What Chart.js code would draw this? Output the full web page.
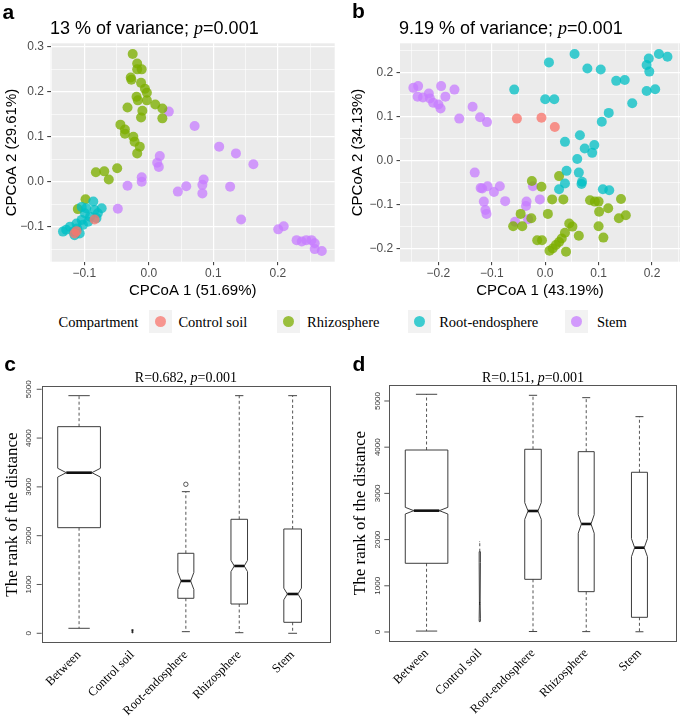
<!DOCTYPE html>
<html><head><meta charset="utf-8">
<script src="https://cdn.jsdelivr.net/npm/chart.js@4.4.1/dist/chart.umd.min.js"></script>
<style>
html,body{margin:0;padding:0;background:#fff;}
#wrap{position:relative;width:685px;height:716px;overflow:hidden;background:#fff;}
canvas{position:absolute;}
.lbl{position:absolute;white-space:nowrap;line-height:1;color:#000;}
.letter{font:bold 21px "Liberation Sans",Arial,sans-serif;}
.ttl{font:18px "Liberation Sans",Arial,sans-serif;}
.ttl i{font-family:"Liberation Serif","Times New Roman",serif;}
.btl{font:14px "Liberation Serif","Times New Roman",serif;transform:translateX(-50%);}
.leg{font:14.5px "Liberation Serif","Times New Roman",serif;}
.key{position:absolute;width:23px;height:23px;background:#F2F2F2;}
.key span{position:absolute;left:6px;top:6px;width:11px;height:11px;border-radius:50%;}
</style></head>
<body>
<div id="wrap">
  <canvas id="ca" width="345" height="302" style="left:0;top:0"></canvas>
  <canvas id="cb" width="340" height="302" style="left:345px;top:0"></canvas>
  <canvas id="cc" width="342" height="376" style="left:0;top:340px"></canvas>
  <canvas id="cd" width="340" height="376" style="left:345px;top:340px"></canvas>

  <div class="lbl letter" style="left:2.6px;top:0.3px">a</div>
  <div class="lbl letter" style="left:352px;top:-1px">b</div>
  <div class="lbl letter" style="left:4.2px;top:352.2px">c</div>
  <div class="lbl letter" style="left:352.5px;top:352.2px">d</div>

  <div class="lbl ttl" style="left:50px;top:17.8px">13 % of variance; <i>p</i>=0.001</div>
  <div class="lbl ttl" style="left:399px;top:17.8px">9.19 % of variance; <i>p</i>=0.001</div>

  <div class="lbl btl" style="left:185.9px;top:370.3px">R=0.682, <i>p</i>=0.001</div>
  <div class="lbl btl" style="left:533px;top:370px">R=0.151, <i>p</i>=0.001</div>

  <div class="lbl leg" style="left:58.6px;top:313.5px">Compartment</div>
  <div class="key" style="left:148.5px;top:309.5px"><span style="background:rgba(248,118,109,0.75)"></span></div>
  <div class="lbl leg" style="left:178.4px;top:313.5px">Control soil</div>
  <div class="key" style="left:276.7px;top:309.5px"><span style="background:rgba(124,174,0,0.75)"></span></div>
  <div class="lbl leg" style="left:307px;top:313.5px">Rhizosphere</div>
  <div class="key" style="left:407.5px;top:309.5px"><span style="background:rgba(0,191,196,0.75)"></span></div>
  <div class="lbl leg" style="left:439.2px;top:313.5px">Root-endosphere</div>
  <div class="key" style="left:565.2px;top:309.5px"><span style="background:rgba(199,124,255,0.75)"></span></div>
  <div class="lbl leg" style="left:596.9px;top:313.5px">Stem</div>
</div>
<script>
// ---------------- DATA ----------------
const groups = ['Control soil', 'Root-endosphere', 'Rhizosphere', 'Stem'];

// Panel a (CPCoA, 51.69% / 29.61%)
const aCtrlX = [-0.115, -0.084, -0.112];
const aCtrlY = [-0.115, -0.084, -0.110];
const aRootX = [-0.133,-0.122,-0.117,-0.107,-0.112,-0.104,-0.099,-0.104,-0.097,-0.086,-0.084,-0.073,-0.079,-0.091,-0.111,-0.102,-0.094,-0.081,-0.128,-0.115];
const aRootY = [-0.111,-0.100,-0.111,-0.115,-0.093,-0.085,-0.070,-0.056,-0.059,-0.044,-0.063,-0.059,-0.070,-0.078,-0.104,-0.096,-0.089,-0.081,-0.107,-0.119];
const aRhizoX = [-0.025,-0.018,-0.018,-0.011,-0.028,-0.027,-0.012,-0.006,-0.003,-0.019,-0.017,-0.003,-0.033,-0.010,-0.012,0.010,0.021,0.021,-0.044,-0.037,-0.037,-0.024,-0.022,-0.014,-0.018,-0.082,-0.069,-0.062,-0.049,-0.098,-0.110];
const aRhizoY = [0.284,0.263,0.250,0.250,0.232,0.227,0.220,0.207,0.198,0.189,0.181,0.181,0.165,0.158,0.143,0.172,0.163,0.141,0.127,0.107,0.116,0.100,0.089,0.078,0.063,0.021,0.023,0.005,0.030,-0.039,-0.061];
const aStemX = [0.031,0.071,0.109,0.135,0.162,0.017,0.013,0.0155,-0.011,-0.011,-0.033,-0.048,0.045,0.058,0.083,0.085,0.083,0.126,0.143,0.2005,0.209,0.229,0.237,0.244,0.252,0.257,0.257,0.268];
const aStemY = [0.156,0.124,0.078,0.063,0.039,0.057,0.042,0.033,0.010,0.000,-0.009,-0.060,-0.022,-0.010,-0.007,0.005,-0.026,-0.011,-0.084,-0.106,-0.099,-0.130,-0.133,-0.130,-0.130,-0.137,-0.150,-0.154];

// Panel b (CPCoA, 43.19% / 34.13%)
const bCtrlX = [-0.053,-0.007,0.018];
const bCtrlY = [0.096,0.098,0.077];
const bRootX = [-0.058,0.007,0.000,0.017,0.055,0.079,0.104,0.133,0.149,0.190,0.194,0.195,0.213,0.229,0.190,0.206,0.163,0.119,0.106,0.037,0.065,0.074,0.088,0.092,0.060,0.040,0.063,0.068,0.069,0.037,0.026,0.108,0.120];
const bRootY = [0.162,0.224,0.140,0.140,0.243,0.210,0.208,0.182,0.184,0.218,0.233,0.203,0.243,0.237,0.159,0.163,0.131,0.109,0.089,0.043,0.058,0.028,0.018,0.036,0.004,-0.023,-0.027,-0.053,-0.048,-0.052,-0.065,-0.065,-0.067];
const bRhizoX = [-0.025,-0.007,0.026,0.013,0.034,0.005,-0.046,-0.026,-0.060,-0.043,0.045,0.051,0.037,0.031,0.026,0.020,0.014,0.008,0.039,-0.015,-0.006,0.063,0.084,0.093,0.100,0.101,0.118,0.100,0.109,0.142,0.138,0.151];
const bRhizoY = [-0.046,-0.059,-0.035,-0.088,-0.088,-0.121,-0.121,-0.131,-0.149,-0.149,-0.143,-0.150,-0.164,-0.177,-0.185,-0.192,-0.200,-0.205,-0.207,-0.181,-0.181,-0.171,-0.090,-0.093,-0.093,-0.116,-0.108,-0.149,-0.175,-0.087,-0.131,-0.124];
const bStemX = [-0.247,-0.238,-0.239,-0.229,-0.218,-0.216,-0.210,-0.200,-0.196,-0.195,-0.187,-0.170,-0.161,-0.136,-0.122,-0.109,-0.132,-0.121,-0.118,-0.108,-0.096,-0.085,-0.075,-0.115,-0.112,-0.110,-0.0565,-0.035,-0.036,-0.032,-0.023,-0.010];
const bStemY = [0.166,0.170,0.146,0.144,0.153,0.142,0.132,0.128,0.119,0.170,0.146,0.162,0.096,0.123,0.099,0.088,-0.027,-0.062,-0.063,-0.058,-0.071,-0.058,-0.092,-0.093,-0.112,-0.121,-0.139,-0.093,-0.103,-0.133,-0.058,-0.088];

// Scatter axis ticks
const aXMajor = [-0.1, 0, 0.1, 0.2], aXMinor = [-0.15, -0.05, 0.05, 0.15, 0.25];
const aYMajor = [-0.1, 0, 0.1, 0.2, 0.3], aYMinor = [-0.15, -0.05, 0.05, 0.15, 0.25];
const bXMajor = [-0.2, -0.1, 0, 0.1, 0.2], bXMinor = [-0.25, -0.15, -0.05, 0.05, 0.15, 0.25];
const bYMajor = [-0.2, -0.1, 0, 0.1, 0.2], bYMinor = [-0.15, -0.05, 0.05, 0.15, 0.25];

// Box plots (ANOSIM rank of distances)
const boxCats = ['Between', 'Control soil', 'Root-endosphere', 'Rhizosphere', 'Stem'];
const boxYTicks = [0, 1000, 2000, 3000, 4000, 5000];
const cLo   = [102, 5, 33, 12, 0];
const cQ1   = [2164, 20, 717, 600, 225];
const cMed  = [3291, 45, 1072, 1379, 805];
const cQ3   = [4234, 60, 1639, 2336, 2137];
const cHi   = [4869, 75, 2902, 4869, 4869];
const cConfLo = [3201, 15, 897, 1263, 685];
const cConfHi = [3381, 75, 1247, 1495, 925];
const cN    = [3800, 3, 534, 571, 647];
const cOut  = [[], [], [3053], [], []];

const dLo   = [20, 223, 10, 8, 5];
const dQ1   = [1487, 230, 1140, 873, 318];
const dMed  = [2626, 620, 2619, 2338, 1825];
const dQ3   = [3939, 1738, 3955, 3903, 3457];
const dHi   = [5145, 1955, 5123, 5072, 4661];
const dConfLo = [2554, 300, 2439, 2138, 1630];
const dConfHi = [2698, 1500, 2799, 2538, 2020];
const dN    = [3800, 3, 571, 534, 534];
const dOut  = [[], [], [], [], []];

// ---------------- STYLE / HELPERS ----------------
const SANS = '"Liberation Sans", Arial, sans-serif';
const SERIF = '"Liberation Serif", "Times New Roman", serif';
const COL = {'Control soil':'rgba(248,118,109,0.78)','Rhizosphere':'rgba(124,174,0,0.78)','Root-endosphere':'rgba(0,191,196,0.75)','Stem':'rgba(199,124,255,0.75)'};

function pts(xs, ys){ return xs.map((x,i)=>({x:x, y:ys[i]})); }
function tickList(maj, min){
  return maj.map(v=>({value:v, minorTick:false})).concat(min.map(v=>({value:v, minorTick:true}))).sort((a,b)=>a.value-b.value);
}
function fmt(v){ const s = (Math.abs(v) < 1e-9 ? 0 : v).toFixed(1); return s.replace('-', '\u2212'); }

const panelBg = {
  id:'panelBg',
  beforeDraw(chart, args, o){
    if(!o || !o.color) return;
    const a = chart.chartArea, c = chart.ctx;
    c.save(); c.fillStyle = o.color; c.fillRect(a.left, a.top, a.right-a.left, a.bottom-a.top); c.restore();
  }
};

function scatterCfg(sets, xr, yr, xMaj, xMin, yMaj, yMin, xTitle, yTitle, g){
  const gridOpt = {
    color:'#FFFFFF',
    lineWidth: c => (c.tick && c.tick.minorTick) ? 0.6 : 1.2,
    tickColor: c => (c.tick && c.tick.minorTick) ? 'rgba(0,0,0,0)' : '#333333',
    tickWidth: 1, tickLength: 3.5, drawTicks:true
  };
  return {
    type:'scatter',
    data:{ datasets: sets.map(s => ({label:s.label, data:s.data, backgroundColor:COL[s.label], borderWidth:0, pointRadius:5, pointHoverRadius:5})) },
    options:{
      responsive:false, animation:false, events:[],
      layout:{ padding:{ top:g.padTop, right:g.padRight, left:0, bottom:0 } },
      plugins:{ legend:{display:false}, tooltip:{enabled:false}, panelBg:{color:'#EBEBEB'} },
      scales:{
        x:{ type:'linear', min:xr[0], max:xr[1],
            afterBuildTicks: s => { s.ticks = tickList(xMaj, xMin); },
            afterFit: s => { s.height = g.xH; },
            ticks:{ autoSkip:false, maxRotation:0, minRotation:0, padding:1.2, color:'#4D4D4D', font:{family:SANS, size:12},
                    callback:(v,i,t)=> t[i].minorTick ? '' : fmt(v) },
            grid: gridOpt, border:{display:false},
            title:{ display:true, text:xTitle, color:'#000', font:{family:SANS, size:15}, padding:{top:0, bottom:2.5} } },
        y:{ type:'linear', min:yr[0], max:yr[1],
            afterBuildTicks: s => { s.ticks = tickList(yMaj, yMin); },
            afterFit: s => { s.width = g.yW; },
            ticks:{ autoSkip:false, padding:3.3, color:'#4D4D4D', font:{family:SANS, size:12},
                    callback:(v,i,t)=> t[i].minorTick ? '' : fmt(v) },
            grid: gridOpt, border:{display:false},
            title:{ display:true, text:yTitle, color:'#000', font:{family:SANS, size:15}, padding:{top:g.yTitlePad, bottom:0} } }
      }
    },
    plugins:[panelBg]
  };
}

new Chart(document.getElementById('ca'), scatterCfg([
  {label:'Control soil', data:pts(aCtrlX, aCtrlY)},
  {label:'Root-endosphere', data:pts(aRootX, aRootY)},
  {label:'Rhizosphere', data:pts(aRhizoX, aRhizoY)},
  {label:'Stem', data:pts(aStemX, aStemY)}
], [-0.152, 0.288], [-0.178, 0.308], aXMajor, aXMinor, aYMajor, aYMinor,
 'CPCoA 1 (51.69%)', 'CPCoA 2 (29.61%)', {padTop:43.3, padRight:10.3, xH:40.3, yW:50.7, yTitlePad:2.5}));

new Chart(document.getElementById('cb'), scatterCfg([
  {label:'Control soil', data:pts(bCtrlX, bCtrlY)},
  {label:'Root-endosphere', data:pts(bRootX, bRootY)},
  {label:'Rhizosphere', data:pts(bRhizoX, bRhizoY)},
  {label:'Stem', data:pts(bStemX, bStemY)}
], [-0.272, 0.2525], [-0.2299, 0.2675], bXMajor, bXMinor, bYMajor, bYMinor,
 'CPCoA 1 (43.19%)', 'CPCoA 2 (34.13%)', {padTop:43.3, padRight:1, xH:40.3, yW:55, yTitlePad:3.5}));

// ---------------- BOX PLOTS ----------------
const boxPlugin = {
  id:'boxplot',
  afterDatasetsDraw(chart, args, o){
    if(!o || !o.q1) return;
    const c = chart.ctx, xs = chart.scales.x, ys = chart.scales.y, a = chart.chartArea;
    const Y = v => ys.getPixelForValue(v);
    const nMax = Math.max(...o.n);
    const seg = (x1,y1,x2,y2) => { c.beginPath(); c.moveTo(x1,y1); c.lineTo(x2,y2); c.stroke(); };
    c.save();
    for(let i=0;i<o.q1.length;i++){
      const cx = xs.getPixelForValue(i);
      const w = 0.8*Math.sqrt(o.n[i]/nMax);
      const hw = Math.max(xs.getPixelForValue(i + w/2) - cx, 0.6);
      const f = 0.6;
      // whiskers (dashed)
      c.strokeStyle = '#555'; c.lineWidth = 1; c.setLineDash([3,2.5]);
      seg(cx, Y(o.q3[i]), cx, Y(o.hi[i]));
      seg(cx, Y(o.q1[i]), cx, Y(o.lo[i]));
      c.setLineDash([]);
      // staples
      c.strokeStyle = '#444';
      seg(cx - hw*0.5, Y(o.hi[i]), cx + hw*0.5, Y(o.hi[i]));
      seg(cx - hw*0.5, Y(o.lo[i]), cx + hw*0.5, Y(o.lo[i]));
      // notched box
      c.beginPath();
      c.moveTo(cx-hw, Y(o.q1[i])); c.lineTo(cx+hw, Y(o.q1[i]));
      c.lineTo(cx+hw, Y(o.cLo[i])); c.lineTo(cx+hw*f, Y(o.med[i])); c.lineTo(cx+hw, Y(o.cHi[i]));
      c.lineTo(cx+hw, Y(o.q3[i])); c.lineTo(cx-hw, Y(o.q3[i]));
      c.lineTo(cx-hw, Y(o.cHi[i])); c.lineTo(cx-hw*f, Y(o.med[i])); c.lineTo(cx-hw, Y(o.cLo[i]));
      c.closePath();
      c.strokeStyle = '#3c3c3c'; c.lineWidth = 1; c.stroke();
      // median
      c.strokeStyle = '#111'; c.lineWidth = 2.6;
      seg(cx - hw*f, Y(o.med[i]), cx + hw*f, Y(o.med[i]));
      // outliers
      c.lineWidth = 0.9; c.strokeStyle = '#444';
      (o.out[i]||[]).forEach(v => { c.beginPath(); c.arc(cx, Y(v), 2.2, 0, Math.PI*2); c.stroke(); });
    }
    // frame
    c.strokeStyle = '#555'; c.lineWidth = 1;
    c.strokeRect(Math.round(a.left)+0.5, Math.round(a.top)+0.5, Math.round(a.right-a.left), Math.round(a.bottom-a.top));
    // y axis tick marks & rotated labels
    c.fillStyle = '#333'; c.font = '8px ' + SANS; c.textAlign = 'center'; c.textBaseline = 'middle';
    ys.ticks.forEach(t => {
      const y = Y(t.value);
      c.strokeStyle = '#555'; seg(a.left - 5, y, a.left, y);
      c.save(); c.translate(a.left - o.labOff, y); c.rotate(-Math.PI/2); c.fillText(String(t.value), 0, 0); c.restore();
    });
    c.restore();
  }
};

function boxCfg(st, yr, g){
  return {
    type:'scatter',
    data:{ datasets:[{ label:'median', data: st.med.map((m,i)=>({x:i, y:m})), pointRadius:0, borderWidth:0 }] },
    options:{
      responsive:false, animation:false, events:[],
      layout:{ padding:{ top:g.padTop, right:g.padRight, left:0, bottom:0 } },
      plugins:{ legend:{display:false}, tooltip:{enabled:false},
        boxplot:{ q1:st.q1, q3:st.q3, med:st.med, lo:st.lo, hi:st.hi, cLo:st.cLo, cHi:st.cHi, n:st.n, out:st.out, labOff:g.labOff } },
      scales:{
        x:{ type:'linear', min:-0.7, max:4.7,
            afterBuildTicks: s => { s.ticks = boxCats.map((c,i)=>({value:i})); },
            afterFit: s => { s.height = g.xH; },
            ticks:{ autoSkip:false, minRotation:45, maxRotation:45, padding:g.xPad, color:'#000', font:{family:SERIF, size:12.5},
                    callback:(v,i)=> boxCats[i] },
            grid:{ display:false }, border:{ display:false } },
        y:{ type:'linear', min:yr[0], max:yr[1],
            afterBuildTicks: s => { s.ticks = boxYTicks.map(v=>({value:v})); },
            afterFit: s => { s.width = g.yW; },
            ticks:{ display:false },
            grid:{ display:false }, border:{ display:false },
            title:{ display:true, text:'The rank of the distance', color:'#000', font:{family:SERIF, size:17}, padding:{top:g.yTitlePad, bottom:0} } }
      }
    },
    plugins:[boxPlugin]
  };
}

new Chart(document.getElementById('cc'), boxCfg(
  {q1:cQ1, q3:cQ3, med:cMed, lo:cLo, hi:cHi, cLo:cConfLo, cHi:cConfHi, n:cN, out:cOut},
  [-193, 5061], {padTop:46.3, padRight:12, xH:73.3, yW:41.7, yTitlePad:2.5, labOff:13, xPad:-3}));

new Chart(document.getElementById('cd'), boxCfg(
  {q1:dQ1, q3:dQ3, med:dMed, lo:dLo, hi:dHi, cLo:dConfLo, cHi:dConfHi, n:dN, out:dOut},
  [-195, 5346], {padTop:45, padRight:8.3, xH:75, yW:44.3, yTitlePad:5, labOff:11.5, xPad:-3}));
</script>
</body></html>
